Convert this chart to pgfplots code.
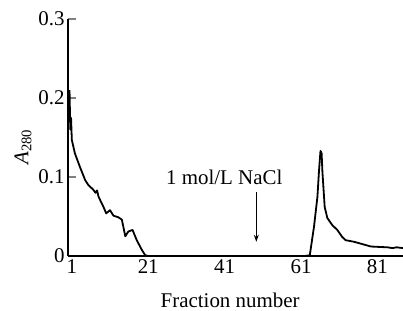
\documentclass[border=0pt]{standalone}
\usepackage{fontspec}
\setmainfont{Liberation Serif}
\usepackage{pgfplots}
\pgfplotsset{compat=1.18}
\usetikzlibrary{arrows.meta}
\begin{document}
\begin{tikzpicture}
\useasboundingbox (-68bp,-55bp) rectangle (335bp,256bp);
\begin{axis}[
  at={(0,0)}, anchor=south west,
  scale only axis, width=335bp, height=237bp,
  xmin=0, xmax=87.7, ymin=0, ymax=0.3,
  axis lines=left, axis line style={line width=1.6bp, -},
  xtick={1,21,41,61,81}, ytick={0,0.1,0.2,0.3},
  yticklabels={0,0.1,0.2,0.3},
  xtick style={draw=none},
  ytick style={line width=1.6bp},
  tick align=inside, major tick length=8bp,
  /pgf/number format/assume math mode=true,
  tick label style={font=\fontsize{21}{24}\selectfont},
  label style={font=\fontsize{21}{24}\selectfont},
  xlabel={Fraction number},
  xlabel style={at={(axis description cs:0.484,-0.185)}, anchor=center},
  ylabel={{\itshape A}\textsubscript{280}},
  ylabel style={at={(axis description cs:-0.134,0.46)}, anchor=center, rotate=0},
  clip=false,
]
\addplot[black, line width=1.8bp, line join=round] coordinates {
(0.4,0.21)(0.6,0.16)(0.8,0.175)(1.0,0.147)(1.8,0.130)(3.1,0.113)(4.5,0.096)(5.3,0.090)
(6.6,0.084)(7.2,0.080)(7.6,0.083)(8.0,0.075)(9.3,0.062)(10.0,0.054)(11.0,0.058)
(11.9,0.051)(13.2,0.049)(14.1,0.046)(15.0,0.025)(15.8,0.031)(16.9,0.033)
(18.0,0.020)(19.3,0.008)(20.2,0.001)(21,0)(62,0)(63.3,0.001)(64.4,0.037)(65.3,0.075)
(65.7,0.107)(66.1,0.133)(66.4,0.130)(66.6,0.107)(67.2,0.062)(67.9,0.048)(69.2,0.039)
(70.5,0.033)(71.8,0.024)(72.7,0.020)(74.9,0.018)(77.1,0.015)(79.3,0.012)(83.6,0.011)
(85,0.010)(86,0.011)(87.7,0.010)
};
\node[font=\fontsize{21}{24}\selectfont] at (axis cs:40.9,0.099) {1 mol/L NaCl};
\draw[line width=1.1bp, -{Stealth[length=7bp,width=5bp]}] (axis cs:49.3,0.081) -- (axis cs:49.3,0.018);
\end{axis}
\end{tikzpicture}
\end{document}
